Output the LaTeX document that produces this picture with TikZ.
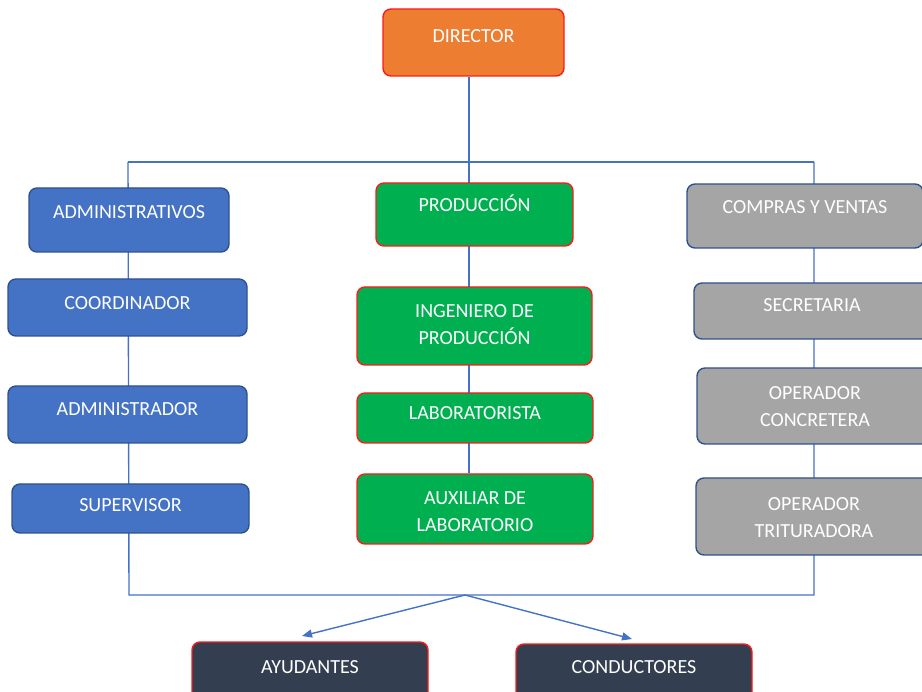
\documentclass[tikz,border=0pt]{standalone}
\usepackage{fontspec}
\setmainfont{Carlito}
\usetikzlibrary{fit,backgrounds,arrows.meta}

\definecolor{linkblue}{HTML}{4472C4}
\definecolor{fillblue}{HTML}{4472C4}
\definecolor{edgeblue}{HTML}{2F528F}
\definecolor{fillorange}{HTML}{ED7D31}
\definecolor{fillgreen}{HTML}{00B050}
\definecolor{fillgray}{HTML}{A5A5A5}
\definecolor{fillnavy}{HTML}{333F50}
\definecolor{edgered}{HTML}{FF1A1A}

\tikzset{
  unit/.style={rounded corners=8pt, line width=1.4pt, inner sep=0pt},
  dirbox/.style={unit, fill=fillorange, draw=edgered},
  admbox/.style={unit, fill=fillblue, draw=edgeblue},
  prodbox/.style={unit, fill=fillgreen, draw=edgered},
  salebox/.style={unit, fill=fillgray, draw=edgeblue},
  crewbox/.style={unit, fill=fillnavy, draw=edgered},
  txt/.style={text=white, font=\fontsize{20}{27}\selectfont, inner sep=0pt,
              text height=13pt, text depth=0pt},
  txttwo/.style={text=white, font=\fontsize{20}{27}\selectfont, inner sep=0pt,
              align=center},
  conn/.style={draw=linkblue, line width=1.4pt},
  arr/.style={conn, -{Triangle[length=10pt,width=8pt]}},
}

\begin{document}
\begin{tikzpicture}[x=1pt,y=-1pt]
\useasboundingbox (0,0) rectangle (922,692);
\clip (0,0) rectangle (922,692);

% top
\node[dirbox, fit={(383,9) (564,76)}] (dir) {};
\node[txt] (dir-t) at (473.5,36) {DIRECTOR};

% administrative column
\node[admbox, fit={(29,188) (229,252)}] (adm) {};
\node[txt] (adm-t) at (129,212) {ADMINISTRATIVOS};
\node[admbox, fit={(8,279) (247,336)}] (coo) {};
\node[txt] (coo-t) at (127.5,303) {COORDINADOR};
\node[admbox, fit={(8,386) (247,443)}] (adr) {};
\node[txt] (adr-t) at (127.5,409) {ADMINISTRADOR};
\node[admbox, fit={(12,484) (249,533)}] (sup) {};
\node[txt] (sup-t) at (130.5,505) {SUPERVISOR};

% production column
\node[prodbox, fit={(376,183) (573,246)}] (prod) {};
\node[txt] (prod-t) at (474.5,205) {PRODUCCIÓN};
\node[prodbox, fit={(357,287) (592,365)}] (ing) {};
\node[txttwo] (ing-t) at (474.5,325) {INGENIERO DE\\PRODUCCIÓN};
\node[prodbox, fit={(357,393) (593,443)}] (lab) {};
\node[txt] (lab-t) at (475,413) {LABORATORISTA};
\node[prodbox, fit={(357,474) (593,544)}] (aux) {};
\node[txttwo] (aux-t) at (475,512) {AUXILIAR DE\\LABORATORIO};

% purchasing and sales column
\node[salebox, fit={(687,184) (923,248)}] (cyv) {};
\node[txt] (cyv-t) at (805,207) {COMPRAS Y VENTAS};
\node[salebox, fit={(694,283) (930,339)}] (sec) {};
\node[txt] (sec-t) at (812,305) {SECRETARIA};
\node[salebox, fit={(697,368) (933,444)}] (opc) {};
\node[txttwo] (opc-t) at (815,407) {OPERADOR\\CONCRETERA};
\node[salebox, fit={(696,478) (932,555)}] (opt) {};
\node[txttwo] (opt-t) at (814,517.5) {OPERADOR\\TRITURADORA};

% field staff
\node[crewbox, fit={(192,642) (428,712)}] (ayu) {};
\node[txt] (ayu-t) at (310,667) {AYUDANTES};
\node[crewbox, fit={(516,644) (752,714)}] (con) {};
\node[txt] (con-t) at (634,667) {CONDUCTORES};

% junction points of the connector frame
\coordinate (mx) at (469,0);
\coordinate (tl) at (128,162);
\coordinate (tr) at (814,162);
\coordinate (bl) at (129,595);
\coordinate (br) at (814,595);
\coordinate (apex) at (465,595);
\coordinate (ayu-in) at (302,636);
\coordinate (con-in) at (632,639);

\begin{pgfonlayer}{background}
  \draw[conn] (dir.south -| mx) -- (aux.north -| mx);
  \draw[conn] (tl) -- (tr);
  \draw[conn] (tl) -- (bl) -- (br) -- (tr);
  \draw[arr] (apex) -- (ayu-in);
  \draw[arr] (apex) -- (con-in);
\end{pgfonlayer}
\end{tikzpicture}
\end{document}
